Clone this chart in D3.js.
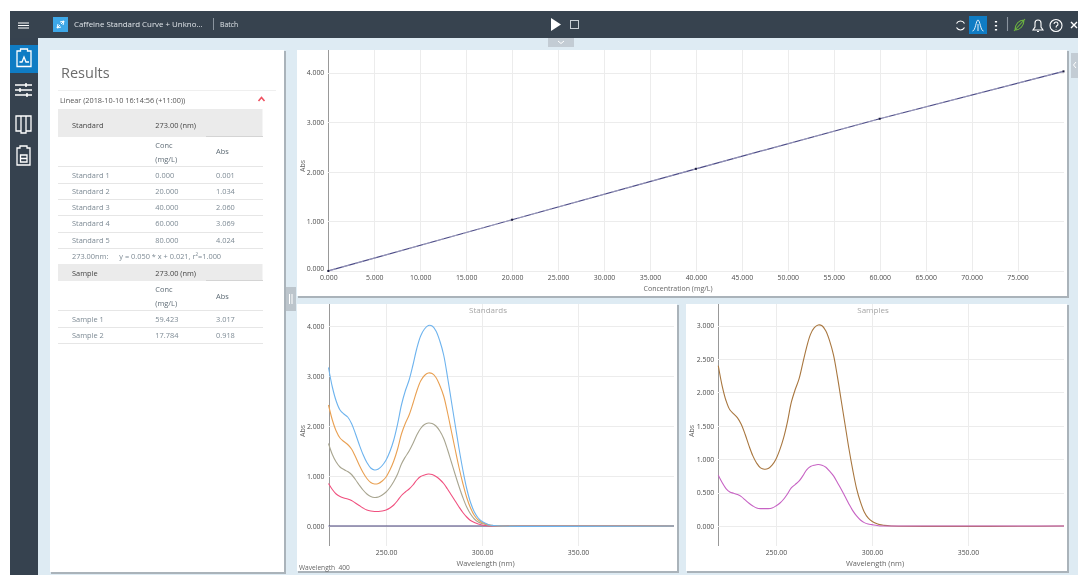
<!DOCTYPE html>
<html>
<head>
<meta charset="utf-8">
<script src="https://cdn.jsdelivr.net/npm/d3@7"></script>
<style>
  html, body { margin: 0; padding: 0; background: #fff; overflow: hidden; }
  svg { display: block; font-family: "Open Sans", sans-serif; filter: blur(0.35px); }
  .axis path, .axis line { shape-rendering: crispEdges; }
  .axis text { font-family: "Open Sans", sans-serif; font-size: 6.9px; fill: #4d4d4d; }
  .lbl { font-size: 7px; fill: #666; }
</style>
</head>
<body>
<svg id="chart" width="1078" height="575"></svg>
<script>
// standards table
const stdNames = ['Standard 1', 'Standard 2', 'Standard 3', 'Standard 4', 'Standard 5'];
const stdConc = [0, 20, 40, 60, 80];
const stdAbs = [0.001, 1.034, 2.060, 3.069, 4.024];
const sampleNames = ['Sample 1', 'Sample 2'];
const sampleConc = [59.423, 17.784];
const sampleAbs = [3.017, 0.918];

// ticks
const concTicks = [0, 5, 10, 15, 20, 25, 30, 35, 40, 45, 50, 55, 60, 65, 70, 75];
const absTicks = [0, 1, 2, 3, 4];
const sampleAbsTicks = [0, 0.5, 1, 1.5, 2, 2.5, 3];
const waveTicks = [250, 300, 350];

// spectra
const wave = [220,222,224,226,228,230,232,234,236,238,240,242,244,246,248,250,252,254,256,258,260,262,264,266,268,270,272,274,276,278,280,282,284,286,288,290,292,294,296,298,300,302,304,306,310,400];
const std1 = [0,0,0,0,0,0,0,0,0,0,0,0,0,0,0,0,0,0,0,0,0,0,0,0,0,0,0,0,0,0,0,0,0,0,0,0,0,0,0,0,0,0,0,0,0,0];
const std2 = [.85,.73,.64,.59,.56,.54,.51,.46,.41,.36,.32,.30,.29,.29,.30,.32,.36,.42,.51,.61,.68,.74,.82,.92,.99,1.02,1.04,1.03,.99,.93,.85,.74,.62,.50,.38,.27,.18,.11,.07,.04,.02,.01,0,0,0,0];
const std3 = [1.65,1.43,1.28,1.18,1.13,1.09,1.03,.93,.82,.72,.64,.59,.57,.58,.62,.68,.77,.89,1.04,1.24,1.38,1.50,1.65,1.82,1.95,2.03,2.06,2.05,2.00,1.90,1.75,1.53,1.28,1.03,.79,.57,.38,.24,.14,.08,.05,.03,.01,0,0,0];
const std4 = [2.42,2.12,1.90,1.76,1.69,1.63,1.54,1.39,1.22,1.07,.95,.87,.84,.85,.90,.98,1.12,1.30,1.54,1.84,2.05,2.22,2.45,2.70,2.90,3.01,3.06,3.05,2.97,2.81,2.60,2.27,1.90,1.53,1.17,.85,.57,.36,.21,.12,.07,.04,.02,.01,0,0];
const std5 = [3.17,2.78,2.50,2.32,2.24,2.18,2.05,1.85,1.63,1.43,1.27,1.16,1.12,1.14,1.21,1.32,1.49,1.72,2.04,2.42,2.70,2.92,3.22,3.55,3.80,3.94,4.01,4.00,3.90,3.70,3.42,2.98,2.50,2.02,1.55,1.12,.75,.47,.28,.16,.09,.05,.02,.01,0,0];
const smp1 = [2.40,2.10,1.88,1.74,1.68,1.62,1.52,1.37,1.20,1.05,.94,.87,.85,.86,.91,1.00,1.14,1.32,1.56,1.85,2.04,2.20,2.44,2.68,2.87,2.97,3.01,3.00,2.92,2.77,2.56,2.24,1.88,1.52,1.16,.84,.56,.36,.21,.12,.07,.04,.02,.01,0,0];
const smp2 = [.76,.65,.56,.51,.49,.47,.44,.39,.34,.30,.27,.26,.26,.26,.27,.30,.34,.40,.48,.57,.62,.67,.75,.84,.89,.91,.92,.91,.88,.82,.75,.65,.55,.44,.33,.23,.15,.09,.05,.03,.02,.01,0,0,0,0];

const svg = d3.select('#chart');
const fmt3 = d3.format('.3f');
const fmt2 = d3.format('.2f');

const text = (g, x, y, str, size, fill) => g.append('text')
  .attr('x', x).attr('y', y)
  .attr('dy', '0.35em')
  .attr('font-size', size)
  .attr('fill', fill)
  .text(str);

const box = (g, x, y, w, h, fill) => g.append('rect')
  .attr('x', x).attr('y', y).attr('width', w).attr('height', h).attr('fill', fill);

const hline = (g, x1, x2, y, col) => g.append('line')
  .attr('x1', x1).attr('x2', x2).attr('y1', y).attr('y2', y)
  .attr('stroke', col).attr('stroke-width', 1).attr('shape-rendering', 'crispEdges');

const panel = (x, y, w, h) => {
  box(svg, x + 1, y + 1, w + 1, h + 1, '#aab3ba');
  box(svg, x, y, w, h, '#fff');
};

// page frame
box(svg, 38, 38, 1040, 537, '#deebf3');
box(svg, 10, 38, 28, 537, '#36424f');
box(svg, 10, 11, 1068, 27, '#37434f');
box(svg, 10, 45, 28, 28, '#0f7cc4');

// left menu icons
const icons = svg.append('g').attr('fill', 'none').attr('stroke', '#fff').attr('stroke-width', 1.3);
icons.append('path').attr('d', 'M18 23h11M18 25.5h11M18 28h11').attr('stroke-width', 1);
icons.append('path').attr('d', 'M17 51h3.5v-2h7v2h3.5v15.5h-14zM19.5 62h2.5l2-5 2 5h3');
icons.append('path').attr('d', 'M15 85h17M15 90h17M15 95h17M26 83v4M20 88v4M27 93v4').attr('stroke-width', 1.5);
icons.append('path').attr('d', 'M16 116h5v15h-5zM21 116h5v17h-5zM26 116h5v15h-5z');
icons.append('path').attr('d', 'M17 148h3v-2h7v2h3v17h-13zM20.5 155h6.5v7h-6.5zM20.5 158.5h6.5');

// top bar
box(svg, 53, 17, 15, 15, '#3ea8e8');
svg.append('path').attr('d', 'M57 28l3-3M58 24l-1 4 4-1M64 21l-3 3M63 25l1-4-4 1')
  .attr('stroke', '#fff').attr('fill', 'none');
text(svg, 74, 24.5, 'Caffeine Standard Curve + Unkno...', 7.9, '#dfe4e8');
svg.append('line').attr('x1', 213.5).attr('x2', 213.5).attr('y1', 18).attr('y2', 30).attr('stroke', '#8a949e');
text(svg, 220, 24.5, 'Batch', 6.9, '#dfe4e8');
svg.append('path').attr('d', 'M551 18l10 6.5-10 6.5z').attr('fill', '#fff');
svg.append('rect').attr('x', 570.5).attr('y', 20.5).attr('width', 8).attr('height', 8)
  .attr('fill', 'none').attr('stroke', '#c8cfd5');
box(svg, 969, 16, 18, 18, '#0f7cc4');
const tools = svg.append('g').attr('fill', 'none').attr('stroke', '#fff').attr('stroke-width', 1.1);
tools.append('path').attr('d', 'M956.5 23.5a4.5 4.5 0 0 1 8 0M964.5 27.5a4.5 4.5 0 0 1-8 0');
tools.append('path').attr('d', 'M972.5 31c3 0 3.5-11 5.5-11s2.5 11 5.5 11M978 24v7').attr('stroke-width', 0.9);
tools.append('path').attr('d', 'M996 21v1.5M996 25v1.5M996 29v1.5').attr('stroke-width', 2.2);
tools.append('path').attr('d', 'M1007.5 17v14').attr('stroke', '#8a949e');
tools.append('path').attr('d', 'M1015 30c0-6 4-10 9-10 0 6-4 10-9 10zM1014 31l11-12').attr('stroke', '#6cb33f');
tools.append('path').attr('d', 'M1033 30h10l-2-3v-4a3 3 0 0 0-6 0v4zM1037 31.5h2');
tools.append('circle').attr('cx', 1056).attr('cy', 25.5).attr('r', 6);
tools.append('path').attr('d', 'M1054 24a2 2 0 1 1 2.5 2l-.5 1.5M1056 29v.5');
tools.append('path').attr('d', 'M1071 22l6 6M1077 22l-6 6').attr('stroke-width', 1.4);

// handles
box(svg, 548, 38, 26, 9, '#c3ccd4');
svg.append('path').attr('d', 'M558 41l3 2.5 3-2.5').attr('fill', 'none').attr('stroke', '#fff');
box(svg, 284, 287, 12, 24, '#bcc5cc');
svg.append('path').attr('d', 'M289.5 294v10M292 294v10').attr('stroke', '#fff');
box(svg, 1071, 53, 7, 25, '#c3ccd4');
svg.append('path').attr('d', 'M1076 62l-2.5 3 2.5 3').attr('fill', 'none').attr('stroke', '#fff');

// results panel
panel(50, 50, 234, 522);
text(svg, 61, 72.5, 'Results', 14.5, '#6b6b6b');
hline(svg, 58, 276, 90.5, '#efefef');
text(svg, 60, 100, 'Linear (2018-10-10 16:14:56 (+11:00))', 7.3, '#555');
svg.append('path').attr('d', 'M258.5 101l3-3.5 3 3.5').attr('fill', 'none').attr('stroke', '#ef5060').attr('stroke-width', 1.6);

const colX = { name: 72, conc: 155.3, abs: 216 };
const tableLeft = 58, tableRight = 262.5;
const rowSize = 7.4;

box(svg, tableLeft, 109, tableRight - tableLeft, 28, '#ebebeb');
hline(svg, 206, tableRight, 136.5, '#d4d4d4');
text(svg, colX.name, 125, 'Standard', rowSize, '#444');
text(svg, colX.conc, 125, '273.00 (nm)', rowSize, '#444');
text(svg, colX.conc, 145, 'Conc', rowSize, '#5f6c76');
text(svg, colX.conc, 159, '(mg/L)', rowSize, '#5f6c76');
text(svg, colX.abs, 151.5, 'Abs', rowSize, '#5f6c76');
hline(svg, tableLeft, tableRight, 166.5, '#e6e6e6');

stdNames.forEach((name, i) => {
  const y = 175 + i * 16.3;
  text(svg, colX.name, y, name, rowSize, '#7d8a94');
  text(svg, colX.conc, y, fmt3(stdConc[i]), rowSize, '#7d8a94');
  text(svg, colX.abs, y, fmt3(stdAbs[i]), rowSize, '#7d8a94');
  hline(svg, tableLeft, tableRight, Math.round(y + 7.8) + 0.5, '#e6e6e6');
});
text(svg, colX.name, 256.7, '273.00nm:', rowSize, '#7d8a94');
text(svg, 119.3, 256.7, 'y = 0.050 * x + 0.021, r²=1.000', rowSize, '#7d8a94');

box(svg, tableLeft, 264, tableRight - tableLeft, 17, '#ebebeb');
hline(svg, 206, tableRight, 280.5, '#d4d4d4');
text(svg, colX.name, 273, 'Sample', rowSize, '#444');
text(svg, colX.conc, 273, '273.00 (nm)', rowSize, '#444');
text(svg, colX.conc, 289.3, 'Conc', rowSize, '#5f6c76');
text(svg, colX.conc, 303, '(mg/L)', rowSize, '#5f6c76');
text(svg, colX.abs, 296, 'Abs', rowSize, '#5f6c76');
hline(svg, tableLeft, tableRight, 310.5, '#e6e6e6');

sampleNames.forEach((name, i) => {
  const y = 319 + i * 16.6;
  text(svg, colX.name, y, name, rowSize, '#7d8a94');
  text(svg, colX.conc, y, fmt3(sampleConc[i]), rowSize, '#7d8a94');
  text(svg, colX.abs, y, fmt3(sampleAbs[i]), rowSize, '#7d8a94');
  hline(svg, tableLeft, tableRight, Math.round(y + 7.8) + 0.5, '#e6e6e6');
});

// shared axis drawing
const drawAxes = (x, y, xTicks, yTicks, xFmt, bottomLine) => {
  const [left, right] = x.range();
  const [bottom, top] = y.range();
  const g = svg.append('g');

  const yAxis = d3.axisLeft(y).tickValues(yTicks).tickFormat(fmt3)
    .tickSize(-(right - left)).tickPadding(4);
  const gy = g.append('g').attr('class', 'axis').attr('transform', `translate(${left},0)`).call(yAxis);
  gy.selectAll('line').attr('stroke', '#ececec');
  gy.select('.domain').attr('stroke', '#999').attr('d', `M0.5,${bottom}V${top}`);

  const xAxis = d3.axisBottom(x).tickValues(xTicks).tickFormat(xFmt)
    .tickSize(-(bottom - top)).tickPadding(4);
  const gx = g.append('g').attr('class', 'axis').attr('transform', `translate(0,${bottom})`).call(xAxis);
  gx.selectAll('line').attr('stroke', '#ececec');
  gx.select('.domain').attr('stroke', bottomLine ? '#bbb' : 'none').attr('stroke-width', bottomLine ? 1.5 : 1)
    .attr('d', `M${left},0.5H${right}`);
  gx.selectAll('text').attr('y', 4);
  gy.raise();
  return gy;
};

const rotated = (x, y, str) => svg.append('text')
  .attr('class', 'lbl').attr('text-anchor', 'middle')
  .attr('transform', `translate(${x},${y}) rotate(-90)`)
  .text(str);

const centred = (x, y, str, size, fill) => text(svg, x, y, str, size, fill).attr('text-anchor', 'middle');

// calibration curve
panel(297, 50, 770, 246);
const xCal = d3.scaleLinear().domain([0, 80]).range([328.3, 1063.5]);
const yCal = d3.scaleLinear().domain([0, 4.455]).range([271, 50]);
const calY = drawAxes(xCal, yCal, concTicks, absTicks, fmt3, true);
// zero label sits a little above its gridline, clear of the x label
calY.selectAll('.tick').filter(d => d === 0).select('text').attr('dy', '-0.1em');
rotated(305, 166, 'Abs');
centred(678, 289, 'Concentration (mg/L)', 7, '#666');

const calLine = d3.line().x((d, i) => xCal(stdConc[i])).y(d => yCal(d));
svg.append('path').datum(stdAbs).attr('d', calLine)
  .attr('fill', 'none').attr('stroke', '#4b4a86').attr('stroke-width', 1.2);
svg.append('path').datum(stdAbs).attr('d', calLine)
  .attr('fill', 'none').attr('stroke', '#c9cadb').attr('stroke-width', 0.6).attr('stroke-dasharray', '8 6');
svg.selectAll('.std').data(stdAbs).enter().append('rect')
  .attr('class', 'std')
  .attr('x', (d, i) => xCal(stdConc[i]) - 1)
  .attr('y', d => yCal(d) - 1)
  .attr('width', 2).attr('height', 2)
  .attr('fill', '#1c1c3c');

// spectra panels
const drawSpectra = (x, y, series, colours) => {
  const line = d3.line().x((d, i) => x(wave[i])).y(d => y(d)).curve(d3.curveCatmullRom.alpha(0.5));
  series.forEach((values, i) => {
    svg.append('path').datum(values).attr('d', line)
      .attr('fill', 'none').attr('stroke', colours[i]).attr('stroke-width', 1.1);
  });
};

panel(297, 304, 380, 267);
const xStd = d3.scaleLinear().domain([220, 400]).range([328.5, 674]);
const yStd = d3.scaleLinear().domain([-0.4, 4.44]).range([546, 304]);
drawAxes(xStd, yStd, waveTicks, absTicks, fmt2, false);
drawSpectra(xStd, yStd, [std1, std2, std3, std4, std5], ['#443f78', '#f0507f', '#a8a590', '#e9a052', '#6db3ee']);
rotated(305, 431, 'Abs');
centred(485.5, 563, 'Wavelength (nm)', 7.4, '#666');
centred(488, 310, 'Standards', 8, '#a6a6a6');
text(svg, 299, 568, 'Wavelength\u00a0\u00a0400', 6.6, '#666');

panel(686, 304, 381, 267);
const xSmp = d3.scaleLinear().domain([220, 400]).range([718.3, 1064]);
const ySmp = d3.scaleLinear().domain([-0.3, 3.325]).range([546, 304]);
drawAxes(xSmp, ySmp, waveTicks, sampleAbsTicks, fmt2, false);
drawSpectra(xSmp, ySmp, [smp1, smp2], ['#a8763e', '#c763c4']);
rotated(694, 431, 'Abs');
centred(875, 563, 'Wavelength (nm)', 7.4, '#666');
centred(873, 310, 'Samples', 8, '#a6a6a6');
</script>
</body>
</html>
